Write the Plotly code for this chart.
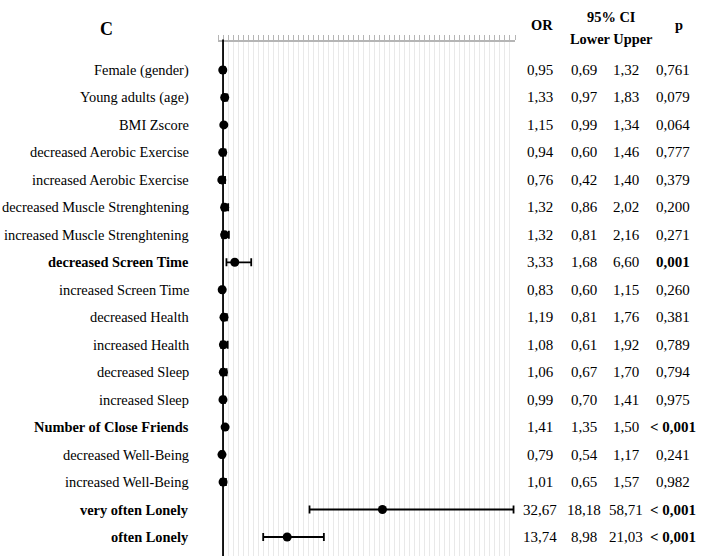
import plotly.graph_objects as go

labels = ["Female (gender)", "Young adults (age)", "BMI Zscore", "decreased Aerobic Exercise",
          "increased Aerobic Exercise", "decreased Muscle Strenghtening", "increased Muscle Strenghtening",
          "decreased Screen Time", "increased Screen Time", "decreased Health", "increased Health",
          "decreased Sleep", "increased Sleep", "Number of Close Friends", "decreased Well-Being",
          "increased Well-Being", "very often Lonely", "often Lonely"]
bold_rows = ["decreased Screen Time", "Number of Close Friends", "very often Lonely", "often Lonely"]
odds_ratio = [0.95, 1.33, 1.15, 0.94, 0.76, 1.32, 1.32, 3.33, 0.83, 1.19, 1.08, 1.06, 0.99, 1.41, 0.79, 1.01, 32.67, 13.74]
ci_lower = [0.69, 0.97, 0.99, 0.60, 0.42, 0.86, 0.81, 1.68, 0.60, 0.81, 0.61, 0.67, 0.70, 1.35, 0.54, 0.65, 18.18, 8.98]
ci_upper = [1.32, 1.83, 1.34, 1.46, 1.40, 2.02, 2.16, 6.60, 1.15, 1.76, 1.92, 1.70, 1.41, 1.50, 1.17, 1.57, 58.71, 21.03]
p_values = ["0,761", "0,079", "0,064", "0,777", "0,379", "0,200", "0,271", "0,001", "0,260", "0,381",
            "0,789", "0,794", "0,975", "< 0,001", "0,241", "0,982", "< 0,001", "< 0,001"]
p_bold = [False]*7 + [True] + [False]*5 + [True] + [False]*2 + [True, True]

rows = list(range(len(labels)))
FONT = "Liberation Serif, Times New Roman, serif"

fig = go.Figure()
fig.add_trace(go.Scatter(
    x=odds_ratio, y=rows, mode="markers",
    marker=dict(color="black", size=9),
    error_x=dict(type="data", symmetric=False,
                 array=[u - o for u, o in zip(ci_upper, odds_ratio)],
                 arrayminus=[o - l for o, l in zip(odds_ratio, ci_lower)],
                 color="black", thickness=1.8, width=4),
    showlegend=False, hoverinfo="skip", cliponaxis=False))

L, W = 218, 297
T, B = 42, 556
def px2paper(px):
    return (px - L) / W

def py2paper(py):
    return (B - py) / (B - T)

ROW_TOP, ROW_STEP = 70, 27.47
def py2data(py):
    return (py - ROW_TOP) / ROW_STEP

ann = []
fs_lab = 14.4
fs_num = 15
for i, lab in enumerate(labels):
    txt = f"<b>{lab}</b>" if lab in bold_rows else lab
    ann.append(dict(x=px2paper(191), y=i, xref="paper", yref="y", text=txt, xanchor="right",
                    showarrow=False, font=dict(family=FONT, size=fs_lab, color="black")))
    fmt = lambda v: f"{v:.2f}".replace(".", ",")
    for cx, val in [(540, fmt(odds_ratio[i])), (584, fmt(ci_lower[i])), (626, fmt(ci_upper[i]))]:
        ann.append(dict(x=px2paper(cx), y=i, xref="paper", yref="y", text=val, xanchor="center",
                        showarrow=False, font=dict(family=FONT, size=fs_num, color="black")))
    pt = f"<b>{p_values[i]}</b>" if p_bold[i] else p_values[i]
    ann.append(dict(x=px2paper(673), y=i, xref="paper", yref="y", text=pt, xanchor="center",
                    showarrow=False, font=dict(family=FONT, size=fs_num, color="black")))

headers = [("OR", 542, 25), ("95% CI", 611, 17), ("Lower Upper", 611, 39), ("p", 679, 25)]
for t, cx, cy in headers:
    ann.append(dict(x=px2paper(cx), y=py2paper(cy), xref="paper", yref="paper", text=f"<b>{t}</b>",
                    xanchor="center", yanchor="middle", showarrow=False,
                    font=dict(family=FONT, size=fs_lab, color="black")))
ann.append(dict(x=px2paper(106), y=py2paper(29), xref="paper", yref="paper", text="<b>C</b>",
                xanchor="center", yanchor="middle", showarrow=False,
                font=dict(family=FONT, size=18, color="black")))

fig.update_layout(
    width=708, height=560,
    margin=dict(l=L, r=708 - L - W, t=T, b=560 - B),
    paper_bgcolor="white", plot_bgcolor="white",
    annotations=ann,
    shapes=[dict(type="line", xref="x", yref="paper", x0=1, x1=1, y0=0.0, y1=1.005,
                 line=dict(color="black", width=1.8))],
    xaxis=dict(range=[0, 59], side="top", dtick=1, tick0=0, ticks="outside", ticklen=5,
               tickcolor="#b5b5b5", tickwidth=1, showticklabels=False, showline=True,
               linecolor="#b5b5b5", linewidth=1.5, showgrid=True, gridcolor="#e9e9e9",
               gridwidth=1, zeroline=False, fixedrange=True),
    yaxis=dict(range=[py2data(B), py2data(T)], showticklabels=False, showgrid=False,
               zeroline=False, showline=False, ticks="", fixedrange=True),
)

fig.write_html("out.html", config={"displayModeBar": False},
               post_script="document.body.style.margin='0';document.body.style.overflow='hidden';")
